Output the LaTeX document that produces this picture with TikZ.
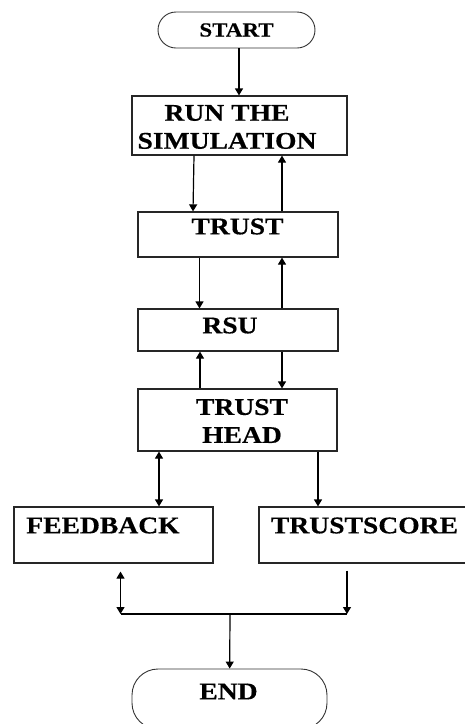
\documentclass[tikz,border=0pt]{standalone}
\usepackage{fontspec}
\newfontfamily\flowfont{Liberation Serif}[FakeStretch=1.15, FakeBold=0.4]
\usetikzlibrary{arrows.meta}

\tikzset{
  box/.style={draw=black!85, line width=1.2pt, rectangle, inner sep=0pt},
  terminal/.style={draw=black!80, line width=0.9pt, rectangle, rounded corners=18pt, inner sep=0pt},
  lbl/.style={font=\flowfont\bfseries\fontsize{24}{28}\selectfont, align=center, inner sep=0pt},
  flow/.style={line width=1.2pt, -{Triangle[length=7pt,width=8pt]}},
  bothflow/.style={line width=1.2pt, {Triangle[length=7pt,width=8pt]}-{Triangle[length=7pt,width=8pt]}}
}

\begin{document}
\begin{tikzpicture}[x=1pt, y=-1pt]
   \useasboundingbox (0,0) rectangle (464,724);

   % boxes
   \node[terminal, minimum width=157pt, minimum height=36pt,
         font=\flowfont\bfseries\fontsize{20}{24}\selectfont] (start) at (236.5,30) {START};
   \node[box, minimum width=215pt, minimum height=59pt] (run) at (239.5,125.5) {};
   \node[lbl] (runtxt) at (227,127) {RUN THE\\SIMULATION};
   \node[box, minimum width=200pt, minimum height=45pt] (trust) at (238,234.5) {};
   \node[lbl] (trusttxt) at (237.5,226.5) {TRUST};
   \node[box, minimum width=200pt, minimum height=42pt] (rsu) at (238,330) {};
   \node[lbl] (rsutxt) at (230,325.5) {RSU};
   \node[box, minimum width=199pt, minimum height=62pt] (head) at (237.5,420) {};
   \node[lbl] (headtxt) at (242,421) {TRUST\\HEAD};
   \node[box, minimum width=199pt, minimum height=56pt] (feedback) at (113.5,535) {};
   \node[lbl] (feedbacktxt) at (103,525.5) {FEEDBACK};
   \node[box, minimum width=207pt, minimum height=56pt] (score) at (362.5,535) {};
   \node[lbl] (scoretxt) at (364.5,525.5) {TRUSTSCORE};
   \node[terminal, rounded corners=26pt, minimum width=195pt, minimum height=60pt] (end) at (229.5,699) {};
   \node[lbl] (endtxt) at (228.5,691.5) {END};

   % connectors
   \draw[flow] ([xshift=2.5pt]start.south) -- ([xshift=-0.5pt]run.north);
   \draw[flow] ([xshift=-45.5pt]run.south) -- ([xshift=-45pt]trust.north);
   \draw[flow] ([xshift=44pt]trust.north) -- ([xshift=42.5pt]run.south);
   \draw[flow] ([xshift=-38.5pt]trust.south) -- ([xshift=-38.5pt]rsu.north);
   \draw[flow] ([xshift=44pt]rsu.north) -- ([xshift=44pt]trust.south);
   \draw[flow] ([xshift=-37.5pt]head.north) -- ([xshift=-38pt]rsu.south);
   \draw[flow] ([xshift=44pt]rsu.south) -- ([xshift=44.5pt]head.north);
   \draw[bothflow] ([xshift=-78.5pt]head.south) -- ([xshift=45.5pt]feedback.north);
   \draw[flow] ([xshift=80.5pt]head.south) -- ([xshift=-44.5pt]score.north);

   \coordinate (fbend) at (120.5,614);
   \coordinate (scend) at (347,614);
   \coordinate (join) at (230,614);
   \draw[bothflow] ([xshift=7pt,yshift=-8pt]feedback.south) -- (fbend);
   \draw[flow] ([xshift=-15.5pt,yshift=-7pt]score.south) -- (scend);
   \draw[line width=1.2pt] (fbend) -- (scend);
   \draw[flow] (join) -- (end);
\end{tikzpicture}
\end{document}
